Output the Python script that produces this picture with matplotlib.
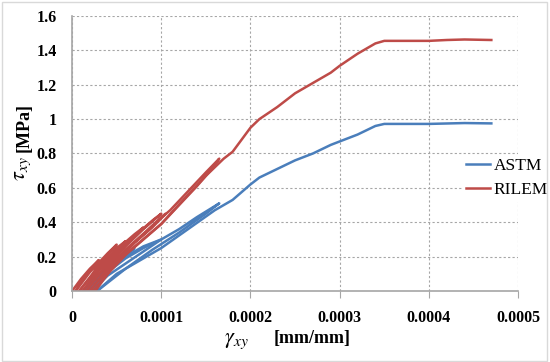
import matplotlib
matplotlib.use("Agg")
import matplotlib.pyplot as plt
from matplotlib.patches import Rectangle

plt.rcParams["mathtext.fontset"] = "stix"

# ---- data ----
# RILEM cyclic loops (strain, stress)
rilem_c1_x = [0.0, 0.00001, 0.00002, 0.00003, 0.00002, 0.00001, 0.000004]
rilem_c1_y = [0.0, 0.07, 0.13, 0.18, 0.12, 0.05, 0.0]
rilem_c2_x = [0.000004, 0.00002, 0.00004, 0.00005, 0.00004, 0.00003, 0.00002, 0.000008]
rilem_c2_y = [0.0, 0.11, 0.22, 0.27, 0.21, 0.15, 0.08, 0.0]
rilem_c3_x = [0.000008, 0.00003, 0.00005, 0.00006, 0.00005, 0.00003, 0.000012]
rilem_c3_y = [0.0, 0.14, 0.25, 0.29, 0.23, 0.12, 0.0]
rilem_c4_x = [0.000012, 0.00003, 0.00005, 0.00007, 0.00008, 0.00006, 0.00004, 0.000016]
rilem_c4_y = [0.0, 0.12, 0.24, 0.33, 0.37, 0.27, 0.16, 0.0]
rilem_c5_x = [0.000016, 0.00003, 0.00005, 0.00007, 0.00009, 0.0001, 0.00008, 0.00006, 0.00004, 0.00002]
rilem_c5_y = [0.0, 0.10, 0.22, 0.32, 0.41, 0.45, 0.36, 0.26, 0.14, 0.0]
rilem_c6_x = [0.00002, 0.00004, 0.00006, 0.00008, 0.0001, 0.000105, 0.00009, 0.00007, 0.00005, 0.000024]
rilem_c6_y = [0.0, 0.13, 0.24, 0.33, 0.43, 0.45, 0.37, 0.28, 0.17, 0.0]
rilem_c7_x = [0.000024, 0.00004, 0.00006, 0.00008, 0.0001, 0.00012, 0.00014, 0.00016, 0.000165, 0.00015, 0.00013, 0.00011, 0.00009, 0.00006, 0.00004, 0.000026]
rilem_c7_y = [0.0, 0.10, 0.21, 0.30, 0.39, 0.50, 0.61, 0.73, 0.77, 0.69, 0.58, 0.47, 0.38, 0.24, 0.12, 0.0]
rilem_env_x = [0.000026, 0.00005, 0.0001, 0.00013, 0.00015, 0.00017, 0.00018, 0.00019, 0.0002, 0.00021, 0.00023, 0.00025,
               0.00027, 0.00029, 0.0003, 0.00032, 0.00034, 0.00035, 0.00037, 0.0004, 0.00042, 0.00044, 0.00047]
rilem_env_y = [0.0, 0.17, 0.39, 0.56, 0.67, 0.77, 0.81, 0.88, 0.95, 1.0, 1.07, 1.15,
               1.21, 1.27, 1.31, 1.38, 1.44, 1.455, 1.455, 1.455, 1.46, 1.463, 1.46]

# ASTM cyclic loops
astm_c1_x = [0.000012, 0.00003, 0.00005, 0.00004, 0.00003, 0.000015]
astm_c1_y = [0.0, 0.10, 0.19, 0.13, 0.08, 0.0]
astm_c2_x = [0.000015, 0.00003, 0.00005, 0.00007, 0.00006, 0.00004, 0.000018]
astm_c2_y = [0.0, 0.09, 0.18, 0.25, 0.20, 0.12, 0.0]
astm_c3_x = [0.000018, 0.00004, 0.00006, 0.00008, 0.0001, 0.00008, 0.00006, 0.00004, 0.000022]
astm_c3_y = [0.0, 0.12, 0.20, 0.26, 0.30, 0.23, 0.16, 0.09, 0.0]
astm_c4_x = [0.000022, 0.00004, 0.00006, 0.00008, 0.0001, 0.00012, 0.00014, 0.000165, 0.00015, 0.00012, 0.00009, 0.00006, 0.000028]
astm_c4_y = [0.0, 0.11, 0.19, 0.25, 0.30, 0.36, 0.43, 0.51, 0.45, 0.34, 0.24, 0.13, 0.0]
astm_env_x = [0.000028, 0.00005, 0.00008, 0.0001, 0.00013, 0.00016, 0.00018, 0.0002, 0.00021, 0.00023, 0.00025,
              0.00027, 0.00029, 0.0003, 0.00032, 0.00034, 0.00035, 0.0004, 0.00044, 0.00047]
astm_env_y = [0.0, 0.10, 0.19, 0.25, 0.36, 0.47, 0.53, 0.62, 0.66, 0.71, 0.76,
              0.80, 0.85, 0.87, 0.91, 0.96, 0.972, 0.972, 0.977, 0.975]

x_ticks = [0, 0.0001, 0.0002, 0.0003, 0.0004, 0.0005]
x_tick_labels = ["0", "0.0001", "0.0002", "0.0003", "0.0004", "0.0005"]
y_ticks = [0, 0.2, 0.4, 0.6, 0.8, 1.0, 1.2, 1.4, 1.6]
y_tick_labels = ["0", "0.2", "0.4", "0.6", "0.8", "1", "1.2", "1.4", "1.6"]

blue = "#4A7EBB"
red = "#BE4B48"

fig = plt.figure(figsize=(5.5, 3.62), dpi=100)
fig.patches.append(Rectangle((0.004, 0.004), 0.99, 0.99, transform=fig.transFigure,
                             fill=False, edgecolor="#d9d9d9", linewidth=1.0))
ax = fig.add_axes([0.131, 0.196, 0.811, 0.760])

lw = 1.8
for xs, ys in [(astm_c1_x, astm_c1_y), (astm_c2_x, astm_c2_y),
               (astm_c3_x, astm_c3_y), (astm_c4_x, astm_c4_y)]:
    ax.plot(xs, ys, color=blue, lw=lw, solid_joinstyle="round")
ax.plot(astm_env_x, astm_env_y, color=blue, lw=lw, label="ASTM")
for xs, ys in [(rilem_c1_x, rilem_c1_y), (rilem_c2_x, rilem_c2_y), (rilem_c3_x, rilem_c3_y),
               (rilem_c4_x, rilem_c4_y), (rilem_c5_x, rilem_c5_y), (rilem_c6_x, rilem_c6_y),
               (rilem_c7_x, rilem_c7_y)]:
    ax.plot(xs, ys, color=red, lw=lw, solid_joinstyle="round")
ax.plot(rilem_env_x, rilem_env_y, color=red, lw=lw, label="RILEM")

ax.set_xlim(0, 0.0005)
ax.set_ylim(0, 1.6)
ax.set_xticks(x_ticks)
ax.set_xticklabels(x_tick_labels)
ax.set_yticks(y_ticks)
ax.set_yticklabels(y_tick_labels)
for lab in ax.get_xticklabels() + ax.get_yticklabels():
    lab.set_fontfamily("Liberation Serif")
    lab.set_fontweight("bold")
    lab.set_fontsize(11.5)
ax.grid(True, color="#a6a6a6", linestyle=(0, (2, 2)), linewidth=0.8)
ax.set_axisbelow(True)
for s in ["top", "right"]:
    ax.spines[s].set_visible(False)
ax.spines["left"].set_color("#a6a6a6")
ax.spines["bottom"].set_color("#a6a6a6")
ax.spines["left"].set_linewidth(1.2)
ax.spines["bottom"].set_linewidth(1.2)
ax.tick_params(axis="x", length=5, color="#a6a6a6", pad=9)
ax.tick_params(axis="y", length=0, pad=11)

# axis titles: italic Greek symbol plus bold unit
fig.text(0.452, 0.052, r"$\gamma_{xy}$", fontsize=16, ha="right", va="baseline")
fig.text(0.498, 0.052, "[mm/mm]", fontfamily="Liberation Serif", fontweight="bold",
         fontsize=13, ha="left", va="baseline")
fig.text(0.060, 0.567, r"$\tau_{xy}$", fontsize=16, rotation=90, ha="right", va="top")
fig.text(0.060, 0.58, "[MPa]", fontfamily="Liberation Serif", fontweight="bold",
         fontsize=13, rotation=90, ha="right", va="bottom")

leg = ax.legend(loc="center left", bbox_to_anchor=(0.875, 0.41), frameon=True,
                prop={"family": "Liberation Serif", "size": 12.5}, handlelength=1.4,
                handletextpad=0.2, labelspacing=0.45, borderaxespad=0, borderpad=0.2)
leg.get_frame().set_facecolor("white")
leg.get_frame().set_edgecolor("none")
leg.get_frame().set_alpha(1.0)

fig.savefig("out.png", dpi=100)
